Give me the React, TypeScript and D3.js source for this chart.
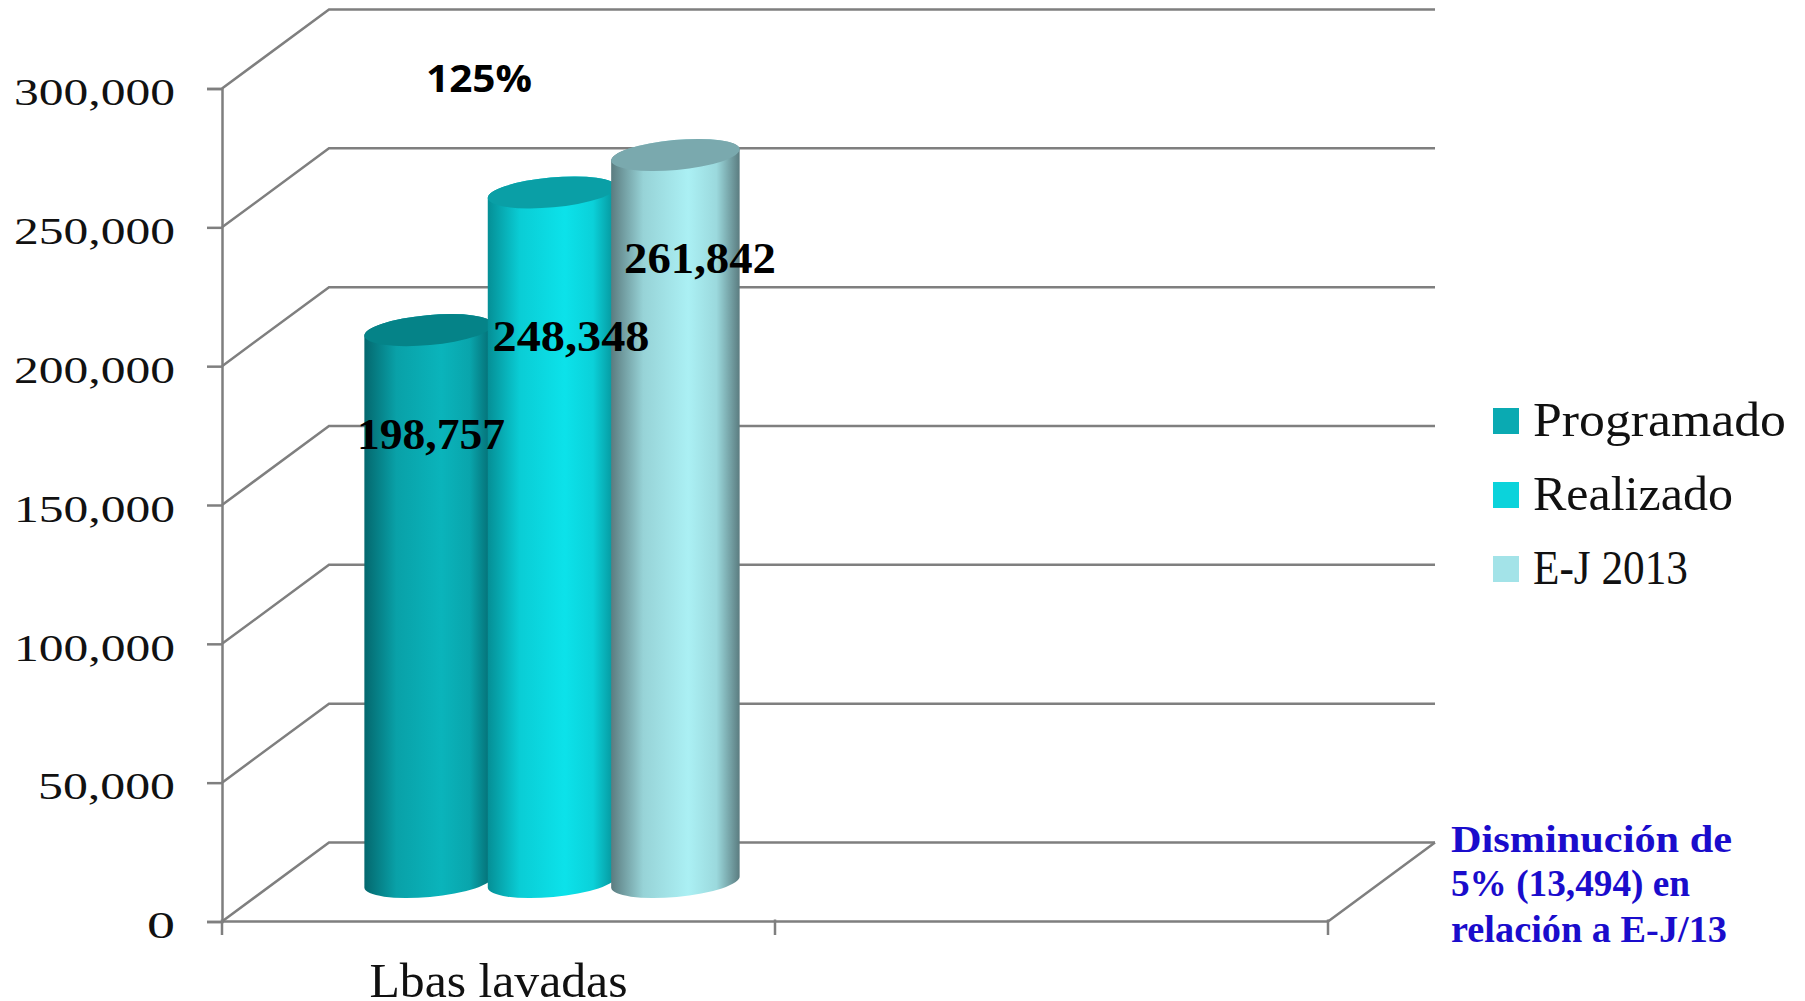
import React, { useEffect, useRef } from 'react';
import * as d3 from 'd3';

const seriesNames = ['Programado', 'Realizado', 'E-J 2013'];
const seriesValues = [198757, 248348, 261842];
const categories = ['Lbas lavadas', ''];
const yTicks = [0, 50000, 100000, 150000, 200000, 250000, 300000];
const noteLines = ['Disminución de', '5% (13,494) en', 'relación a E-J/13'];
const percentLabel = '125%';

// colores de cada cilindro: borde, centro, tapa, leyenda
const bodyEdge = ['#04686e', '#058f96', '#5b7c80'];
const bodyMid = ['#0ab4bb', '#0ce2ea', '#abf0f4'];
const capFill = ['#058388', '#0a9fa6', '#7aa9ae'];
const legendFill = ['#0aaab2', '#0bd3db', '#a3e3e8'];

const WIDTH = 1805;
const HEIGHT = 1001;
const SERIF = '"Liberation Serif", serif';
const GRID = '#7f7f7f';

export default function App() {
  const svgRef = useRef<SVGSVGElement>(null);

  useEffect(() => {
    if (!svgRef.current) return;
    const svg = d3.select(svgRef.current);
    svg.selectAll('*').remove();

    // caja 3D: plano frontal + desplazamiento hacia el fondo
    const depthX = 107;
    const depthY = -79;
    const y = d3.scaleLinear().domain([0, 300000]).range([921.5, 88.5]);
    const x = d3.scaleBand().domain(categories).range([222, 1328]).padding(0);
    const inner = d3.scalePoint().domain(seriesNames).range([-123.4, 123.4]);

    const defs = svg.append('defs');
    seriesNames.forEach((_, i) => {
      const grad = defs.append('linearGradient').attr('id', `cyl${i}`);
      grad.append('stop').attr('offset', '0%').attr('stop-color', bodyEdge[i]);
      grad.append('stop').attr('offset', '25%').attr('stop-color', d3.interpolateRgb(bodyEdge[i], bodyMid[i])(0.75));
      grad.append('stop').attr('offset', '60%').attr('stop-color', bodyMid[i]);
      grad.append('stop').attr('offset', '82%').attr('stop-color', d3.interpolateRgb(bodyEdge[i], bodyMid[i])(0.8));
      grad.append('stop').attr('offset', '100%').attr('stop-color', bodyEdge[i]);
    });

    // rejilla: pared lateral y pared del fondo
    const grid = svg.append('g').attr('fill', 'none').attr('stroke', GRID).attr('stroke-width', 2.5);
    const gridLine = d3.line<[number, number]>();
    grid.selectAll('path')
      .data(yTicks)
      .join('path')
      .attr('d', (d) => gridLine([
        [222, y(d)],
        [222 + depthX, y(d) + depthY],
        [1328 + depthX, y(d) + depthY],
      ]));
    // suelo
    grid.append('path').attr('d', gridLine([
      [222, y(0)],
      [1328, y(0)],
      [1328 + depthX, y(0) + depthY],
    ]));

    // eje vertical con d3
    const yAxis = svg.append('g')
      .attr('transform', 'translate(222,0)')
      .call(d3.axisLeft(y).tickValues(yTicks).tickFormat(d3.format(',') as any).tickSize(15).tickPadding(32));
    yAxis.select('.domain').attr('stroke', GRID).attr('stroke-width', 2.5);
    yAxis.selectAll('.tick line').attr('stroke', GRID).attr('stroke-width', 2.5);
    yAxis.selectAll('text')
      .attr('font-family', SERIF)
      .attr('font-size', 37)
      .attr('fill', '#111')
      .attr('dy', '0.44em')
      .attr('textLength', (d: any) => (d === 0 ? 28 : d < 100000 ? 137 : 161))
      .attr('lengthAdjust', 'spacingAndGlyphs');

    // eje horizontal: solo marcas
    const xTicks = [222, 775, 1328];
    svg.append('g').selectAll('line')
      .data(xTicks)
      .join('line')
      .attr('x1', (d) => d).attr('x2', (d) => d)
      .attr('y1', y(0) - 2).attr('y2', 935)
      .attr('stroke', GRID).attr('stroke-width', 2.5);

    svg.append('text')
      .attr('x', (x(categories[0]) as number) + x.bandwidth() / 2)
      .attr('y', 997)
      .attr('text-anchor', 'middle')
      .attr('font-family', SERIF)
      .attr('font-size', 48)
      .attr('textLength', 258)
      .attr('lengthAdjust', 'spacingAndGlyphs')
      .attr('fill', '#111')
      .text(categories[0]);

    // cilindros
    const rx = 64.5;
    const ry = 15;
    const tilt = -5.2;
    const rad = (tilt * Math.PI) / 180;
    const cx0 = (x(categories[0]) as number) + x.bandwidth() / 2 + depthX / 2;

    seriesNames.forEach((name, i) => {
      const cx = cx0 + (inner(name) as number);
      const yTop = y(seriesValues[i]) + depthY / 2;
      const yBase = y(0) + depthY / 2;
      const ex = rx * Math.cos(rad);
      const ey = rx * Math.sin(rad);
      const g = svg.append('g');
      const bodyD =
        `M${cx - ex},${yTop - ey}` +
        `L${cx - ex},${yBase - ey}` +
        `A${rx},${ry} ${tilt} 0 0 ${cx + ex},${yBase + ey}` +
        `L${cx + ex},${yTop + ey}` +
        `A${rx},${ry} ${tilt} 0 0 ${cx - ex},${yTop - ey}Z`;
      g.append('path').attr('d', bodyD).attr('fill', `url(#cyl${i})`);
      g.append('ellipse')
        .attr('rx', rx).attr('ry', ry)
        .attr('transform', `translate(${cx},${yTop}) rotate(${tilt})`)
        .attr('fill', capFill[i]);
    });

    // etiquetas de datos
    const labelX = [431, 571, 700];
    const labelBase = [449, 351, 273];
    const labelLen = [148, 157, 152];
    svg.append('g').selectAll('text')
      .data(seriesValues)
      .join('text')
      .attr('x', (_, i) => labelX[i])
      .attr('y', (_, i) => labelBase[i])
      .attr('text-anchor', 'middle')
      .attr('font-family', SERIF)
      .attr('font-weight', 700)
      .attr('font-size', 44)
      .attr('textLength', (_, i) => labelLen[i])
      .attr('lengthAdjust', 'spacingAndGlyphs')
      .attr('fill', '#000')
      .text((d) => d3.format(',')(d));

    svg.append('text')
      .attr('x', 426).attr('y', 92)
      .attr('font-family', '"Open Sans", sans-serif')
      .attr('font-weight', 700)
      .attr('font-size', 38)
      .attr('textLength', 106)
      .attr('lengthAdjust', 'spacingAndGlyphs')
      .attr('fill', '#000')
      .text(percentLabel);

    // leyenda
    const legendY = d3.scalePoint().domain(seriesNames).range([421, 569]);
    const legendLen = [253, 200, 155];
    const legend = svg.append('g').selectAll('g')
      .data(seriesNames)
      .join('g')
      .attr('transform', (d) => `translate(1493,${legendY(d)})`);
    legend.append('rect')
      .attr('y', -13).attr('width', 26).attr('height', 26)
      .attr('fill', (_, i) => legendFill[i]);
    legend.append('text')
      .attr('x', 40).attr('y', 15)
      .attr('font-family', SERIF)
      .attr('font-size', 48)
      .attr('textLength', (_, i) => legendLen[i])
      .attr('lengthAdjust', 'spacingAndGlyphs')
      .attr('fill', '#111')
      .text((d) => d);

    // nota en azul
    const noteBase = [852, 896, 942];
    const noteLen = [281, 239, 276];
    svg.append('g').selectAll('text')
      .data(noteLines)
      .join('text')
      .attr('x', 1451)
      .attr('y', (_, i) => noteBase[i])
      .attr('font-family', SERIF)
      .attr('font-weight', 700)
      .attr('font-size', 37)
      .attr('textLength', (_, i) => noteLen[i])
      .attr('lengthAdjust', 'spacingAndGlyphs')
      .attr('fill', '#1a0ccc')
      .text((d) => d);
  }, []);

  return (
    <svg
      ref={svgRef}
      width={WIDTH}
      height={HEIGHT}
      style={{ position: 'fixed', left: 0, top: 0, display: 'block', background: '#fff' }}
    />
  );
}
